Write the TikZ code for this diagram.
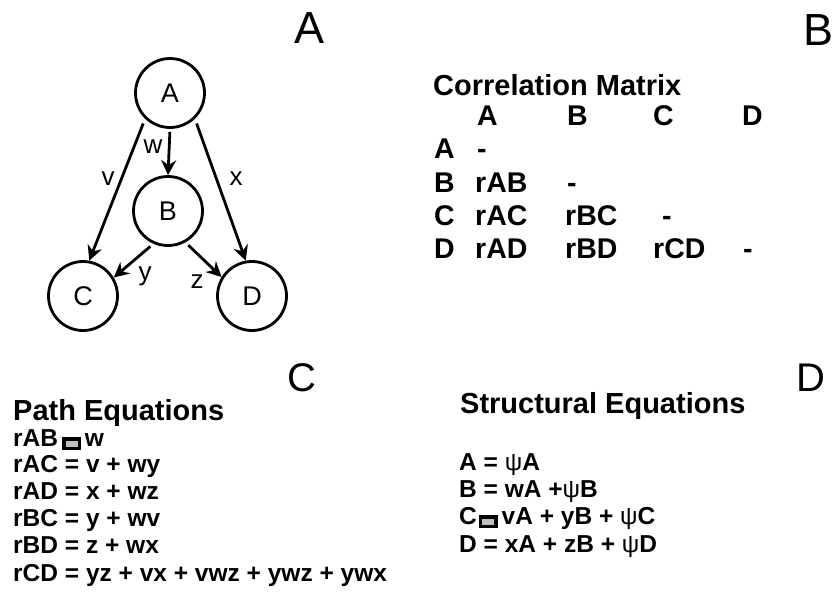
\documentclass[tikz,border=0pt]{standalone}
\usepackage{fontspec}
\setmainfont{Liberation Sans}
\usetikzlibrary{arrows.meta}
\newcommand\misbox{\raisebox{-0.5pt}{\setlength\fboxsep{0pt}\setlength\fboxrule{3.4pt}\fcolorbox{black}{gray!50}{\rule{0pt}{6pt}\hspace{12pt}}}}
\tikzset{
  vnode/.style={circle, draw, line width=2.8pt, minimum size=69pt, inner sep=0pt, font=\fontsize{27}{27}\selectfont},
  edge/.style={line width=2.8pt, -{Stealth[length=15pt,width=15pt,inset=5pt]}},
  lbl/.style={anchor=base, inner sep=0pt, font=\fontsize{26}{26}\selectfont},
  panel/.style={anchor=base, inner sep=0pt, font=\fontsize{45}{45}\selectfont},
  panelb/.style={anchor=base, inner sep=0pt, font=\fontsize{40}{40}\selectfont},
  head/.style={anchor=base west, inner sep=0pt, font=\bfseries\fontsize{29}{29}\selectfont},
  cell/.style={anchor=base west, inner sep=0pt, font=\bfseries\fontsize{28.5}{28.5}\selectfont},
  eq/.style={anchor=base west, inner sep=0pt, font=\bfseries\fontsize{24.5}{24.5}\selectfont},
}
\begin{document}
\begin{tikzpicture}[x=1pt,y=-1pt]
\useasboundingbox (0,0) rectangle (832,592);
% panel letters
\node[panel] (pA) at (310,43) {A};
\node[panel, anchor=base west] (pB) at (803,45) {B};
\node[panelb] (pC) at (302,391) {C};
\node[panelb] (pD) at (811,391) {D};
% graph
\node[vnode] (A) at (170,93) {A};
\node[vnode] (B) at (168,211) {B};
\node[vnode] (C) at (83,296) {C};
\node[vnode] (D) at (252,296) {D};
\draw[edge, shorten <=5pt] (A.226) -- (C.80);
\draw[edge, shorten <=5pt] (A.314) -- (D.100);
\draw[edge, shorten <=3pt] (A.south) -- (B.north);
\draw[edge, shorten <=4pt] (B.246) -- (C.31);
\draw[edge, shorten <=4pt] (B.299) -- (D.148);
\node[lbl] (lw) at (153,153) {w};
\node[lbl] (lv) at (108,185) {v};
\node[lbl] (lx) at (236,185) {x};
\node[lbl] (ly) at (145,280) {y};
\node[lbl] (lz) at (197,288) {z};
% correlation matrix
\node[head] (cm) at (433,95) {Correlation Matrix};
\node[cell] (hA) at (477,125) {A};
\node[cell] (hB) at (567,125) {B};
\node[cell] (hC) at (653,125) {C};
\node[cell] (hD) at (742,125) {D};
\node[cell] (rA) at (434,158) {A};
\node[cell] (rB) at (434,192) {B};
\node[cell] (rC) at (434,225) {C};
\node[cell] (rD) at (434,258) {D};
\node[cell] (aa) at (477,158) {-};
\node[cell] (ba) at (475,192) {rAB};
\node[cell] (bb) at (567,192) {-};
\node[cell] (ca) at (475,225) {rAC};
\node[cell] (cb) at (565,225) {rBC};
\node[cell] (cc) at (662,225) {-};
\node[cell] (da) at (475,258) {rAD};
\node[cell] (db) at (565,258) {rBD};
\node[cell] (dc) at (653,258) {rCD};
\node[cell] (dd) at (743,258) {-};
% path equations
\node[head] (pe) at (13,420) {Path Equations};
\node[eq] (p1) at (13,446) {rAB\hspace{4pt}\misbox\hspace{4pt}w};
\node[eq] (p2) at (13,472) {rAC = v + wy};
\node[eq] (p3) at (13,499) {rAD = x + wz};
\node[eq] (p4) at (13,526) {rBC = y + wv};
\node[eq] (p5) at (13,553) {rBD = z + wx};
\node[eq] (p6) at (13,581) {rCD = yz + vx + vwz + ywz + ywx};
% structural equations
\node[head] (se) at (460,413) {Structural Equations};
\node[eq] (s1) at (459,470) {A = {\mdseries ψ}A};
\node[eq] (s2) at (459,497) {B = wA +{\mdseries ψ}B};
\node[eq] (s3) at (459,524) {C\hspace{2pt}\misbox\hspace{4pt}vA + yB + {\mdseries ψ}C};
\node[eq] (s4) at (459,552) {D = xA + zB + {\mdseries ψ}D};
\end{tikzpicture}
\end{document}
